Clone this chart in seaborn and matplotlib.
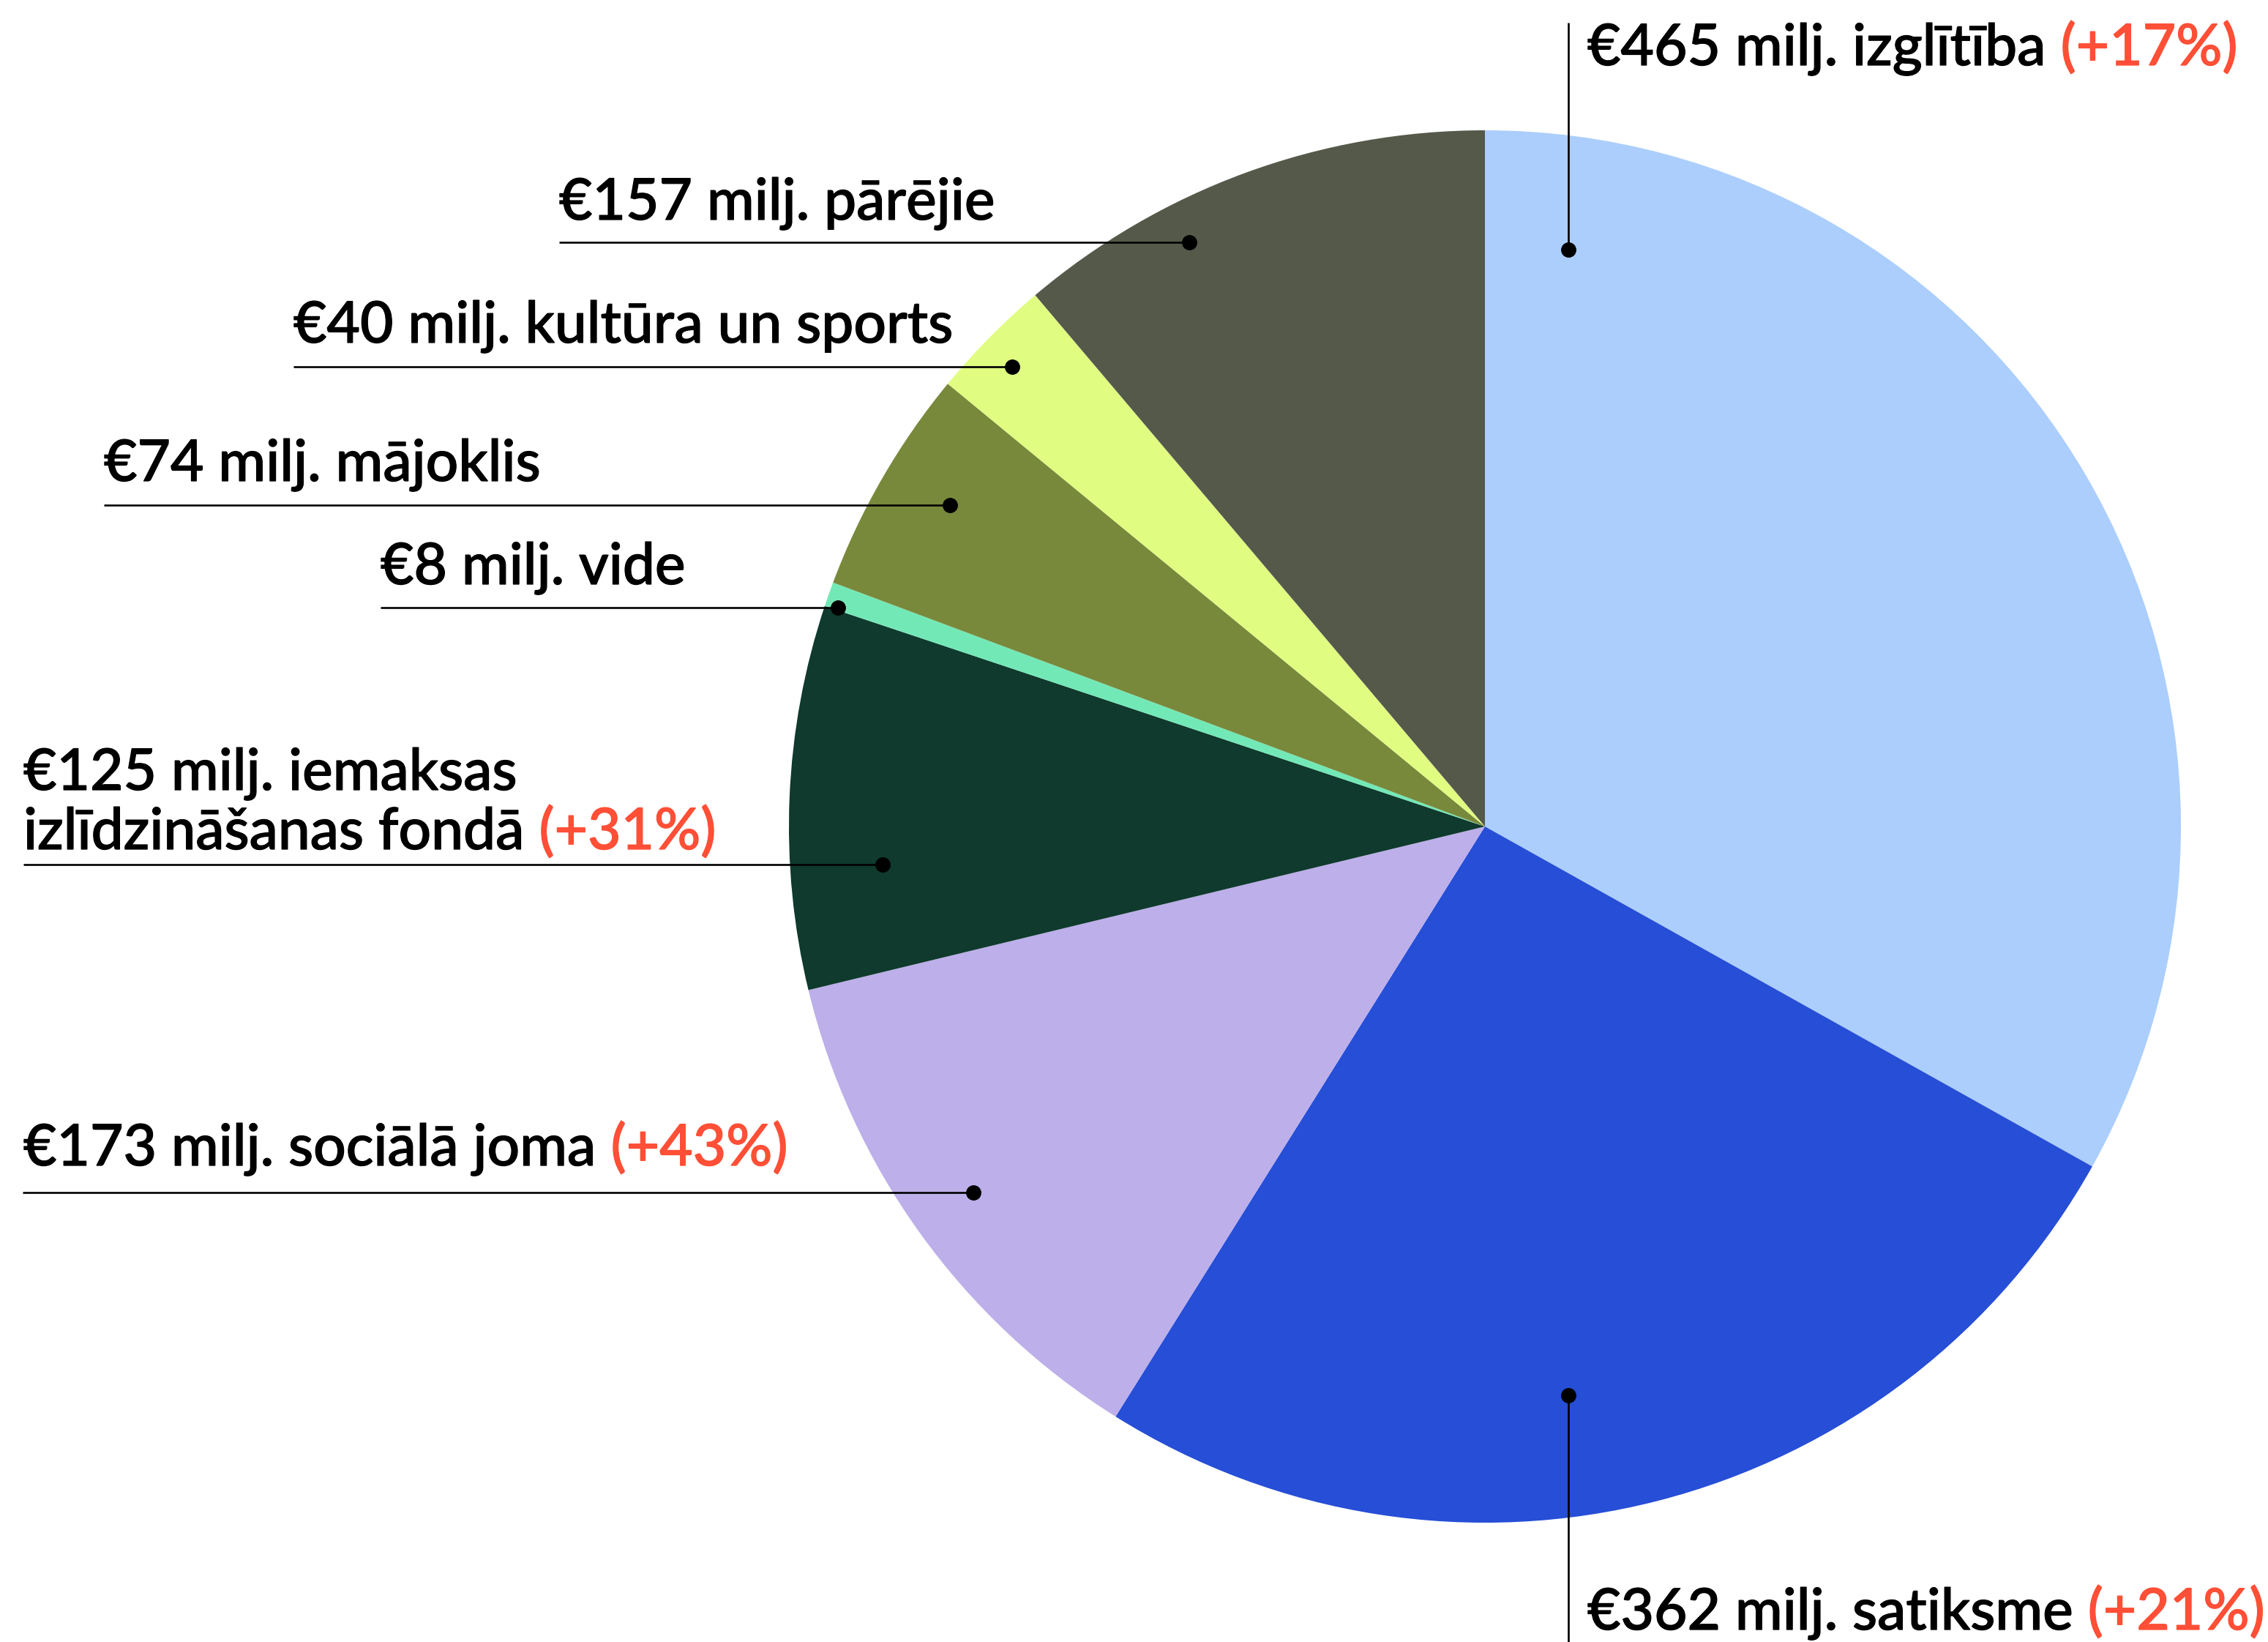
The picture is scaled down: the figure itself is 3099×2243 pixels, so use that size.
import matplotlib
matplotlib.use("Agg")
import matplotlib.pyplot as plt
import matplotlib.patheffects as pe
import seaborn as sns
import pandas as pd

# ---- data ----
categories = ["izglītība", "satiksme", "sociālā joma", "iemaksas\nizlīdzināšanas fondā",
              "vide", "mājoklis", "kultūra un sports", "pārējie"]
values = [465, 362, 173, 125, 8, 74, 40, 157]
changes = ["+17%", "+21%", "+43%", "+31%", None, None, None, None]
colors = ["#abcefc", "#264ed6", "#bdafea", "#0f3a2d", "#73e8b7", "#78893c", "#e0fd82", "#55594a"]

W, H = 3099, 2243
RED = "#ff4f36"

sns.set_theme(style="white")
plt.rcParams["font.family"] = ["Lato", "DejaVu Sans"]

fig = plt.figure(figsize=(W / 100, H / 100), dpi=100)
ax = fig.add_axes([0, 0, 1, 1])

df = pd.DataFrame({"category": categories, "value": values})
ax.pie(df["value"], colors=colors, startangle=90, counterclock=False,
       center=(2029, H - 1129), radius=951,
       wedgeprops=dict(linewidth=0, edgecolor="none"))
ax.set_xlim(0, W)
ax.set_ylim(0, H)
ax.set_aspect("auto")
ax.axis("off")


def Y(y):
    return H - y


# layout (pixel coords from top-left): text x, first baseline, leader line, dot
layout = [
    dict(tx=2169, ty=89, line=((2143, 31), (2143, 341)), dot=(2143, 341)),
    dict(tx=2169, ty=2226, line=((2143, 1906), (2143, 2243)), dot=(2143, 1906)),
    dict(tx=32, ty=1592, line=((31, 1629), (1330, 1629)), dot=(1330, 1629)),
    dict(tx=32, ty=1079, line=((32, 1181), (1206, 1181)), dot=(1206, 1181)),
    dict(tx=520, ty=798, line=((520, 830), (1145, 830)), dot=(1145, 830)),
    dict(tx=142, ty=657, line=((142, 690), (1298, 690)), dot=(1298, 690)),
    dict(tx=401, ty=468, line=((401, 501), (1383, 501)), dot=(1383, 501)),
    dict(tx=764, ty=300, line=((764, 331), (1625, 331)), dot=(1625, 331)),
]

FS = 56.5
LINE_GAP = 81
STROKE = 0.9


def txt_kw(color):
    return dict(fontsize=FS, fontweight="medium", color=color, va="baseline", ha="left", zorder=6,
                path_effects=[pe.withStroke(linewidth=STROKE, foreground=color)])


last_texts = []
for cat, val, chg, lay in zip(categories, values, changes, layout):
    lines = f"€{val} milj. {cat}".split("\n")
    t = None
    for i, ln in enumerate(lines):
        t = ax.text(lay["tx"], Y(lay["ty"] + i * LINE_GAP), ln, **txt_kw("black"))
    last_texts.append((t, chg, lay["ty"] + (len(lines) - 1) * LINE_GAP))
    (x0, y0), (x1, y1) = lay["line"]
    ax.plot([x0, x1], [Y(y0), Y(y1)], color="black", lw=1.9, solid_capstyle="butt", zorder=5)
    ax.plot(lay["dot"][0], Y(lay["dot"][1]), "o", ms=14, color="black", zorder=7)

fig.canvas.draw()
renderer = fig.canvas.get_renderer()
inv = ax.transData.inverted()
for t, chg, base in last_texts:
    if chg is None:
        continue
    bb = t.get_window_extent(renderer)
    xe = inv.transform((bb.x1, bb.y0))[0]
    ax.text(xe, Y(base), f" ({chg})", **txt_kw(RED))

fig.savefig("out.png", dpi=100)
